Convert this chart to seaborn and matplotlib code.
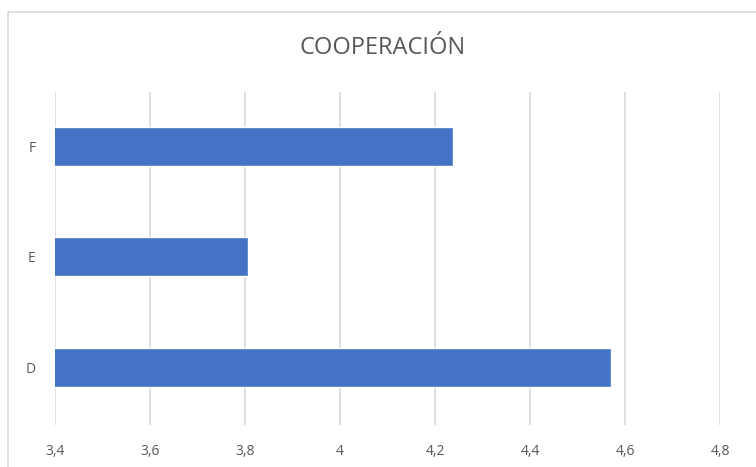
import matplotlib
matplotlib.use("Agg")
import matplotlib.pyplot as plt
import seaborn as sns
import pandas as pd
from matplotlib.patches import Rectangle

categories = ["F", "E", "D"]
values = [4.237, 3.807, 4.571]
xticks = [3.4, 3.6, 3.8, 4.0, 4.2, 4.4, 4.6, 4.8]
xtick_labels = ["3,4", "3,6", "3,8", "4", "4,2", "4,4", "4,6", "4,8"]
title = "COOPERACIÓN"

sns.set_theme(style="white")
plt.rcParams["font.family"] = ["Open Sans", "DejaVu Sans"]

df = pd.DataFrame({"cat": categories, "val": values})

fig = plt.figure(figsize=(7.56, 4.67), dpi=100)
ax = fig.add_axes([55/756, 1-425/467, (720-55)/756, (425-92)/467])

sns.barplot(data=df, y="cat", x="val", order=categories, orient="h",
            color="#4472C4", width=0.35, ax=ax, zorder=3, saturation=1)

ax.set_xlim(3.4, 4.8)
ax.set_ylim(2.52, -0.49)
ax.set_xticks(xticks)
ax.set_xticklabels(xtick_labels)
ax.grid(axis="x", color="#d9d9d9", linewidth=1.2, zorder=0)
ax.grid(axis="y", visible=False)
for s in ax.spines.values():
    s.set_visible(False)
ax.tick_params(axis="both", length=0, colors="#595959", labelsize=10)
ax.tick_params(axis="x", pad=14)
ax.tick_params(axis="y", pad=14)
ax.set_xlabel("")
ax.set_ylabel("")

fig.text(383/756, 1-48/467, title, ha="center", va="center",
         fontsize=17, color="#595959")

fig.patches.append(Rectangle((8/756, -0.1), 1.0, 1-12/467+0.1, transform=fig.transFigure,
                             fill=False, edgecolor="#d9d9d9", linewidth=1.2))

fig.savefig("out.png", dpi=100)
